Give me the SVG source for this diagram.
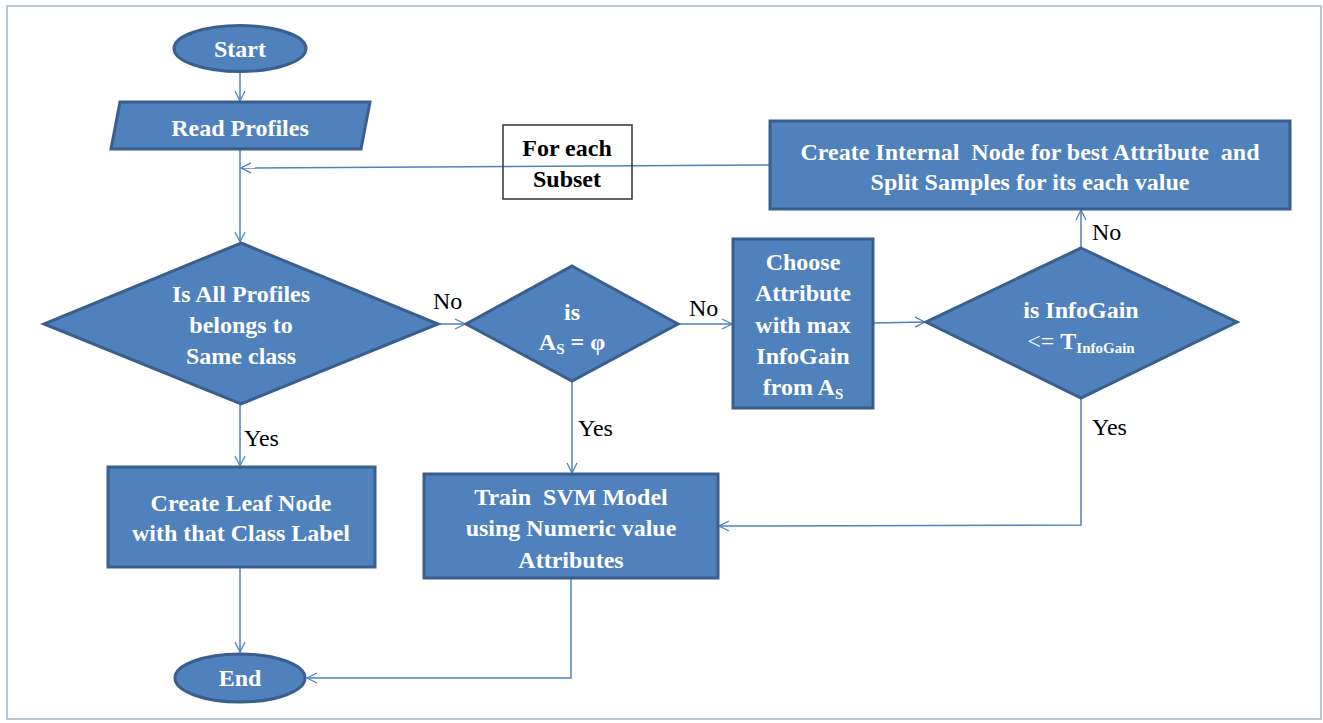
<svg xmlns="http://www.w3.org/2000/svg" width="1323" height="723" viewBox="0 0 1323 723" font-family="Liberation Serif, Times New Roman, serif">
<style>
.shape{fill:#4f81bd;stroke:#3a5f8d;stroke-width:3}
text{font-family:"Liberation Serif","Times New Roman",Times,serif}
.t{font-weight:bold;font-size:24px;fill:#ffffff;text-anchor:middle}
.lbl{font-size:24px;fill:#000000}
.sub{font-size:15px}
.c{fill:none;stroke:#4f81bd;stroke-width:1.5}
</style>
<defs>
<marker id="ah" viewBox="0 0 12 12" refX="11" refY="6" markerWidth="12" markerHeight="12" markerUnits="userSpaceOnUse" orient="auto">
<path d="M1,1 L11,6 L1,11" fill="none" stroke="#4f81bd" stroke-width="1.3"/>
</marker>
</defs>
<rect x="0" y="0" width="1323" height="723" fill="#ffffff"/>
<rect x="7" y="6" width="1314" height="713" fill="none" stroke="#9fb6c9" stroke-width="1.5"/>

<g id="connectors">
<line class="c" x1="240" y1="72" x2="240" y2="101" marker-end="url(#ah)"/>
<line class="c" x1="240" y1="150" x2="240" y2="242" marker-end="url(#ah)"/>
<line class="c" x1="769" y1="165" x2="241" y2="168" marker-end="url(#ah)"/>
<line class="c" x1="240" y1="405" x2="240" y2="466" marker-end="url(#ah)"/>
<line class="c" x1="439" y1="324" x2="465" y2="324" marker-end="url(#ah)"/>
<line class="c" x1="679" y1="324" x2="732" y2="324" marker-end="url(#ah)"/>
<line class="c" x1="874" y1="323" x2="925" y2="322" marker-end="url(#ah)"/>
<line class="c" x1="572" y1="382" x2="572" y2="473" marker-end="url(#ah)"/>
<line class="c" x1="1081" y1="247" x2="1081" y2="210" marker-end="url(#ah)"/>
<polyline class="c" points="1081,399 1081,525 719,526" marker-end="url(#ah)"/>
<line class="c" x1="240" y1="568" x2="240" y2="652" marker-end="url(#ah)"/>
<polyline class="c" points="571,579 571,678 307,678" marker-end="url(#ah)"/>
</g>

<g id="start">
<ellipse class="shape" cx="240" cy="48.5" rx="66" ry="23"/>
<text class="t" x="240" y="57">Start</text>
</g>

<g id="read-profiles">
<polygon class="shape" points="120,102 370,102 361,149 111,149"/>
<text class="t" x="240" y="136">Read Profiles</text>
</g>

<g id="for-each-subset">
<rect x="503" y="125" width="129" height="74" fill="none" stroke="#333333" stroke-width="1.5"/>
<text class="t" x="567" y="156" style="fill:#000000">For each</text>
<text class="t" x="567" y="187" style="fill:#000000">Subset</text>
</g>

<g id="create-internal">
<rect class="shape" x="770" y="121" width="520" height="88"/>
<text class="t" x="1030" y="160" xml:space="preserve">Create Internal  Node for best Attribute  and</text>
<text class="t" x="1030" y="190">Split Samples for its each value</text>
</g>

<g id="same-class">
<polygon class="shape" points="241,243 438,324 241,404 44,324"/>
<text class="t" x="241" y="302">Is All Profiles</text>
<text class="t" x="241" y="333">belongs to</text>
<text class="t" x="241" y="364">Same class</text>
</g>

<g id="as-empty">
<polygon class="shape" points="572,266 678,324 572,381 466,324"/>
<text class="t" x="572" y="320">is</text>
<text class="t" x="572" y="350">A<tspan class="sub" dy="4">S</tspan><tspan dy="-4"> = φ</tspan></text>
</g>

<g id="choose-attribute">
<rect class="shape" x="733" y="239" width="140" height="169"/>
<text class="t" x="803" y="270">Choose</text>
<text class="t" x="803" y="301">Attribute</text>
<text class="t" x="803" y="333">with max</text>
<text class="t" x="803" y="364">InfoGain</text>
<text class="t" x="803" y="395">from A<tspan class="sub" dy="4">S</tspan></text>
</g>

<g id="infogain">
<polygon class="shape" points="1081,248 1237,322 1081,398 926,322"/>
<text class="t" x="1081" y="318">is InfoGain</text>
<text class="t" x="1081" y="349"><tspan style="font-weight:normal">&lt;= </tspan>T<tspan class="sub" dy="4">InfoGain</tspan></text>
</g>

<g id="leaf-node">
<rect class="shape" x="108" y="467" width="267" height="100"/>
<text class="t" x="241" y="511">Create Leaf Node</text>
<text class="t" x="241" y="541">with that Class Label</text>
</g>

<g id="train-svm">
<rect class="shape" x="424" y="474" width="294" height="104"/>
<text class="t" x="571" y="505" xml:space="preserve">Train  SVM Model</text>
<text class="t" x="571" y="536">using Numeric value</text>
<text class="t" x="571" y="568">Attributes</text>
</g>

<g id="end">
<ellipse class="shape" cx="240" cy="678" rx="65" ry="24"/>
<text class="t" x="240" y="686">End</text>
</g>

<g id="labels">
<text class="lbl" x="433" y="309">No</text>
<text class="lbl" x="689" y="316">No</text>
<text class="lbl" x="244" y="446">Yes</text>
<text class="lbl" x="578" y="436">Yes</text>
<text class="lbl" x="1092" y="240">No</text>
<text class="lbl" x="1092" y="435">Yes</text>
</g>
</svg>
